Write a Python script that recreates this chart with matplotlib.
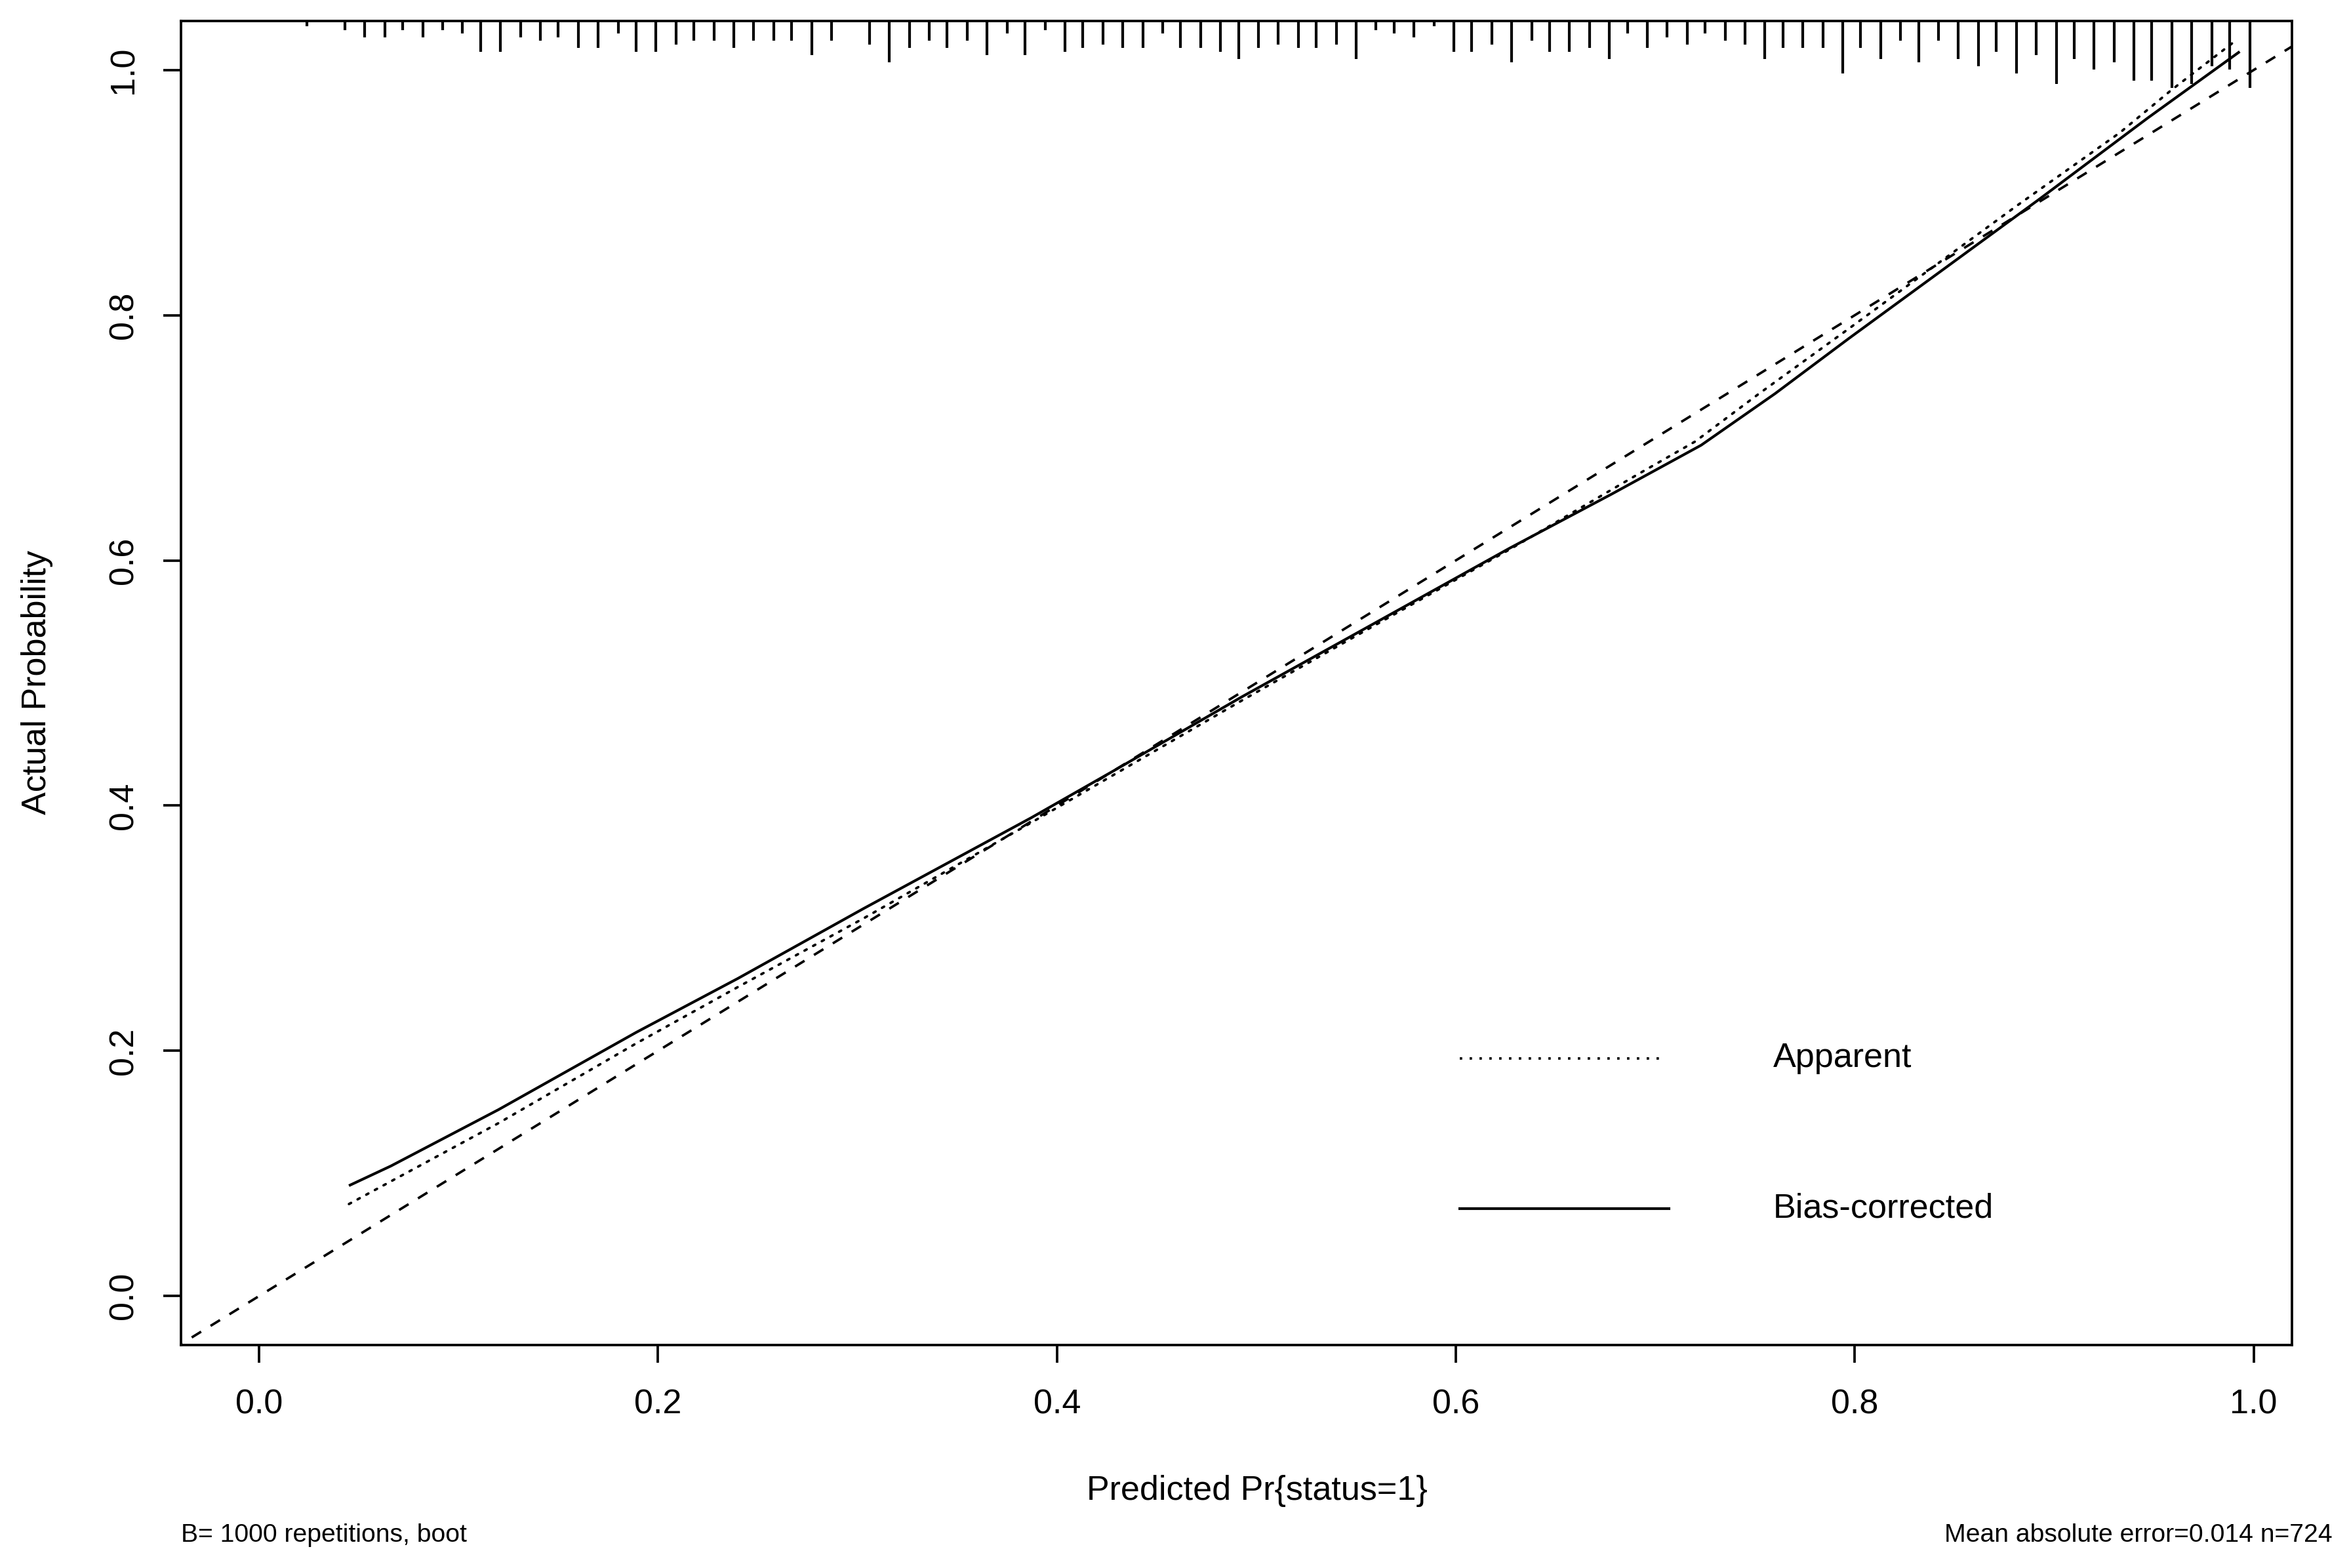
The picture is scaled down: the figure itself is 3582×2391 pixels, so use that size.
import matplotlib
matplotlib.use("Agg")
import matplotlib.pyplot as plt
from matplotlib.transforms import blended_transform_factory

plt.rcParams['font.family'] = ['Liberation Sans', 'DejaVu Sans']

# ---------------- data ----------------
# Bias-corrected calibration curve (solid)
bias_x = [0.045, 0.066, 0.120, 0.189, 0.240, 0.303, 0.387, 0.428, 0.493, 0.544,
          0.627, 0.678, 0.723, 0.760, 0.797, 0.892, 0.947, 0.993]
bias_y = [0.090, 0.106, 0.152, 0.215, 0.259, 0.316, 0.390, 0.428, 0.489, 0.535,
          0.610, 0.654, 0.694, 0.736, 0.781, 0.894, 0.961, 1.015]

# Apparent calibration curve (dotted)
app_x = [0.045, 0.120, 0.189, 0.240, 0.303, 0.387, 0.493, 0.544, 0.627, 0.691,
         0.720, 0.752, 0.797, 0.881, 0.933, 0.959, 0.991]
app_y = [0.075, 0.141, 0.206, 0.252, 0.308, 0.386, 0.486, 0.533, 0.609, 0.670,
         0.697, 0.736, 0.789, 0.889, 0.949, 0.984, 1.024]

# Distribution of predicted risks (top rug): position and relative frequency
rug_x = [0.024, 0.043, 0.053, 0.063, 0.072, 0.082, 0.092, 0.102, 0.111, 0.121,
         0.131, 0.141, 0.150, 0.160, 0.170, 0.180, 0.189, 0.199, 0.209, 0.218,
         0.228, 0.238, 0.248, 0.258, 0.267, 0.277, 0.287, 0.306, 0.316, 0.326,
         0.336, 0.345, 0.355, 0.365, 0.375, 0.384, 0.394, 0.404, 0.413, 0.423,
         0.433, 0.443, 0.453, 0.462, 0.472, 0.482, 0.491, 0.501, 0.511, 0.521,
         0.530, 0.540, 0.550, 0.560, 0.569, 0.579, 0.589, 0.599, 0.608, 0.618,
         0.628, 0.638, 0.647, 0.657, 0.667, 0.677, 0.686, 0.696, 0.706, 0.716,
         0.725, 0.735, 0.745, 0.755, 0.764, 0.774, 0.784, 0.794, 0.803, 0.813,
         0.823, 0.832, 0.842, 0.852, 0.862, 0.871, 0.881, 0.891, 0.901, 0.910,
         0.920, 0.930, 0.940, 0.949, 0.959, 0.969, 0.979, 0.988, 0.998]
rug_n = [1, 2, 4, 4, 2, 4, 2, 3, 8, 8,
         4, 5, 4, 7, 7, 3, 8, 8, 6, 5,
         5, 7, 5, 5, 5, 9, 5, 6, 11, 7,
         5, 7, 5, 9, 3, 9, 2, 8, 7, 6,
         7, 7, 3, 7, 7, 8, 10, 7, 6, 7,
         7, 6, 10, 2, 3, 4, 1, 8, 8, 6,
         11, 5, 8, 8, 7, 10, 3, 7, 4, 6,
         3, 5, 6, 10, 7, 7, 7, 14, 7, 10,
         5, 11, 5, 10, 12, 8, 14, 9, 17, 10,
         13, 11, 16, 16, 18, 17, 12, 13, 18]

tick_vals = [0.0, 0.2, 0.4, 0.6, 0.8, 1.0]
tick_labels = ["0.0", "0.2", "0.4", "0.6", "0.8", "1.0"]

xlabel = "Predicted Pr{status=1}"
ylabel = "Actual Probability"
legend_labels = ["Apparent", "Bias-corrected"]
sub_left = "B= 1000 repetitions, boot"
sub_right = "Mean absolute error=0.014 n=724"

# ---------------- figure ----------------
W, H, DPI = 3582, 2391, 300
fig = plt.figure(figsize=(W / DPI, H / DPI), dpi=DPI)
left, right, top, bottom = 276 / W, 3495 / W, 1 - 32 / H, 1 - 2051 / H
ax = fig.add_axes([left, bottom, right - left, top - bottom])

xlim = (-0.0392, 1.0192)
ylim = (-0.04, 1.04)
ax.set_xlim(*xlim)
ax.set_ylim(*ylim)

LW = 0.9
# ideal line
ax.plot([-0.1, 1.1], [-0.1, 1.1], color="black", lw=LW, dashes=(4.5, 4.5))
# apparent
ax.plot(app_x, app_y, color="black", lw=LW, dashes=(1, 3), dash_capstyle="round")
# bias corrected
ax.plot(bias_x, bias_y, color="black", lw=LW * 1.1, solid_capstyle="butt")

# rug at top
axes_h_px = 2019
trans = blended_transform_factory(ax.transData, ax.transAxes)
unit_px = 5.53
lengths = [unit_px * (n + 0.45) / axes_h_px for n in rug_n]
ax.vlines(rug_x, [1 - l for l in lengths], [1.0] * len(rug_x), transform=trans,
          color="black", lw=1.0, clip_on=False)

# legend drawn in data coordinates (like R's calibrate legend)
ax.plot([0.602, 0.705], [0.194, 0.194], color="black", lw=LW, dashes=(1, 3))
ax.plot([0.602, 0.707], [0.071, 0.071], color="black", lw=LW * 1.1)
ax.text(0.759, 0.194, legend_labels[0], fontsize=12.5, va="center", ha="left")
ax.text(0.759, 0.071, legend_labels[1], fontsize=12.5, va="center", ha="left")

# axes styling
for s in ax.spines.values():
    s.set_linewidth(LW)
ax.set_xticks(tick_vals)
ax.set_xticklabels(tick_labels)
ax.set_yticks(tick_vals)
ax.set_yticklabels(tick_labels)
ax.tick_params(axis="both", direction="out", length=6.5, width=LW, labelsize=12.5)
ax.tick_params(axis="x", pad=9.5)
ax.tick_params(axis="y", pad=8.5)
for lab in ax.get_yticklabels():
    lab.set_rotation(90)
    lab.set_va("center")
    lab.set_ha("right")

ax.set_xlabel(xlabel, fontsize=12.5)
ax.xaxis.set_label_coords((1916.6 - 276) / (3495 - 276), (2051 - 2273) / 2019)
ax.xaxis.label.set_va("center")
ax.set_ylabel(ylabel, fontsize=12.5)
ax.yaxis.set_label_coords((57 - 276) / (3495 - 276), (2051 - 1040) / 2019)
ax.yaxis.label.set_va("center")

fig.text(276 / W, 1 - 2341 / H, sub_left, fontsize=9.4, ha="left", va="center")
fig.text(3557 / W, 1 - 2341 / H, sub_right, fontsize=9.4, ha="right", va="center")

fig.savefig("out.png", dpi=DPI, facecolor="white")
